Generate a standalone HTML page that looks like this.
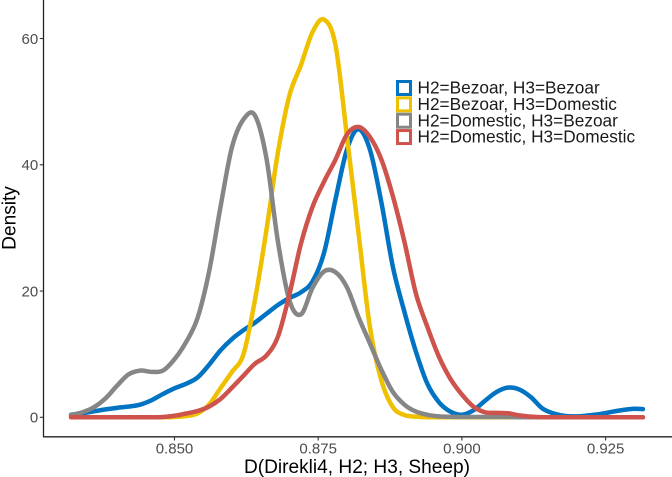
<!DOCTYPE html>
<html>
<head>
<meta charset="utf-8">
<style>
html,body{margin:0;padding:0;background:#fff;}
svg{display:block;font-family:"Liberation Sans",sans-serif;}
</style>
</head>
<body>
<svg id="chart" width="672" height="477" viewBox="0 0 672 477" xmlns="http://www.w3.org/2000/svg">
  <g id="axes"></g>
  <g id="series"></g>
  <text x="357" y="473" font-size="19.1" text-anchor="middle" fill="#000">D(Direkli4, H2; H3, Sheep)</text>
  <text transform="translate(15.5,218) rotate(-90)" font-size="19.1" text-anchor="middle" fill="#000">Density</text>
  <g id="legend"></g>
</svg>
<script>
const xValues = [0.832,0.834,0.836,0.838,0.840,0.842,0.844,0.846,0.848,0.850,0.852,0.854,0.856,0.858,0.860,0.862,0.864,0.866,0.868,0.870,0.872,0.874,0.876,0.878,0.880,0.882,0.884,0.886,0.888,0.890,0.892,0.894,0.896,0.898,0.900,0.902,0.904,0.906,0.908,0.910,0.912,0.914,0.916,0.918,0.920,0.922,0.924,0.926,0.928,0.930,0.9315];
const bezoarBezoar = [0.4,0.65,0.95,1.25,1.5,1.7,2.0,2.7,3.7,4.6,5.3,6.3,8.3,10.6,12.4,13.8,15,16.4,17.8,18.9,19.8,21.5,26,34.5,42.4,45.6,42.4,34,23.8,16.7,10.4,5.3,2.4,0.9,0.4,1.1,2.6,4,4.7,4.4,3.2,1.4,0.6,0.2,0.15,0.3,0.5,0.85,1.15,1.35,1.3];
const bezoarDomestic = [0,0,0,0,0,0,0,0,0,0.05,0.2,0.6,2.0,4.6,7.2,10,18.6,29.7,42,51,55.8,61,63,59,44.5,29.3,14.3,5.8,1.6,0.35,0.1,0,0,0,0,0,0,0,0,0,0,0,0,0,0,0,0,0,0,0,0];
const domesticBezoar = [0.35,0.8,1.6,3.0,5.0,6.8,7.4,7.2,7.4,9.2,11.9,15.7,23,33.3,42.8,47.2,47.8,41,27.8,18.5,16.3,20.5,23.1,23,20.6,15.9,11.7,7.5,4.0,2.0,0.9,0.4,0.15,0.08,0.05,0.05,0.05,0.05,0.05,0,0,0,0,0,0,0,0,0,0,0,0];
const domesticDomestic = [0,0,0,0,0,0,0,0,0.05,0.25,0.6,1.0,1.7,2.9,4.7,6.6,8.5,9.8,12.8,19.5,27.5,33.3,37.3,40.8,44.8,46,44.4,40.8,35,27.8,19.6,14.3,9.6,6.1,3.6,1.7,0.8,0.7,0.65,0.3,0.1,0,0,0,0,0,0,0,0,0,0];
const seriesLabels = ["H2=Bezoar, H3=Bezoar","H2=Bezoar, H3=Domestic","H2=Domestic, H3=Bezoar","H2=Domestic, H3=Domestic"];
const seriesNames = ["bezoar-bezoar","bezoar-domestic","domestic-bezoar","domestic-domestic"];
const seriesColors = ["#0073C2","#EFC000","#868686","#CD534C"];
const xTicks = [0.850,0.875,0.900,0.925];
const xTickLabels = ["0.850","0.875","0.900","0.925"];
const yTicks = [0,20,40,60];
const yTickLabels = ["0","20","40","60"];

const allSeries = [bezoarBezoar,bezoarDomestic,domesticBezoar,domesticDomestic];
const NS = "http://www.w3.org/2000/svg";
function xScale(v){return 174.5 + (v-0.85)*5748;}
function yScale(v){return 417.3 - v*6.313;}
function make(tag,attrs,parent){
  const el=document.createElementNS(NS,tag);
  for(const k in attrs){el.setAttribute(k,attrs[k]);}
  parent.appendChild(el);
  return el;
}
function curvePath(xs,ys){
  const p=xs.map((x,i)=>[xScale(x),yScale(ys[i])]);
  const base=yScale(0);
  let d="M"+p[0][0].toFixed(2)+" "+p[0][1].toFixed(2);
  for(let i=0;i<p.length-1;i++){
    const a=p[Math.max(i-1,0)],b=p[i],c=p[i+1],e=p[Math.min(i+2,p.length-1)];
    const c1x=b[0]+(c[0]-a[0])/6;
    const c1y=Math.min(b[1]+(c[1]-a[1])/6,base);
    const c2x=c[0]-(e[0]-b[0])/6;
    const c2y=Math.min(c[1]-(e[1]-b[1])/6,base);
    d+="C"+c1x.toFixed(2)+" "+c1y.toFixed(2)+" "+c2x.toFixed(2)+" "+c2y.toFixed(2)+" "+c[0].toFixed(2)+" "+c[1].toFixed(2);
  }
  return d;
}

const axes=document.getElementById("axes");
const xAxisLine=make("line",{x1:43.5,x2:672,y1:436.8,y2:436.8,stroke:"#222","stroke-width":1.3},axes);


const yAxisLine=make("line",{x1:43.5,x2:43.5,y1:0,y2:437.4,stroke:"#222","stroke-width":1.3},axes);



xTicks.forEach((t,i)=>{
  const x=xScale(t);
  const tick=make("line",{x1:x,x2:x,y1:436.8,y2:440.5,stroke:"#333","stroke-width":1.1},axes);
  
  
  const label=make("text",{x:x,y:453.5,"font-size":15,"text-anchor":"middle",fill:"#4D4D4D"},axes);
  
  
  label.textContent=xTickLabels[i];
});
yTicks.forEach((t,i)=>{
  const y=yScale(t);
  const tick=make("line",{x1:39.8,x2:43.5,y1:y,y2:y,stroke:"#333","stroke-width":1.1},axes);
  
  
  const label=make("text",{x:38.2,y:y+5.4,"font-size":15,"text-anchor":"end",fill:"#4D4D4D"},axes);
  
  
  label.textContent=yTickLabels[i];
});

const seriesGroup=document.getElementById("series");
allSeries.forEach((vals,i)=>{
  const path=make("path",{d:curvePath(xValues,vals),fill:"none",stroke:seriesColors[i],"stroke-width":4.5,"stroke-linecap":"round","stroke-linejoin":"round"},seriesGroup);
  
  
});

const legend=document.getElementById("legend");
seriesLabels.forEach((s,i)=>{
  const top=80+i*16.35;
  const key=make("rect",{x:397.5,y:top+1.5,width:13,height:13,fill:"#fff",stroke:seriesColors[i],"stroke-width":3},legend);
  
  
  const text=make("text",{x:417.5,y:top+13.6,"font-size":17.25,fill:"#1a1a1a"},legend);
  
  
  text.textContent=s;
});
</script>
</body>
</html>
